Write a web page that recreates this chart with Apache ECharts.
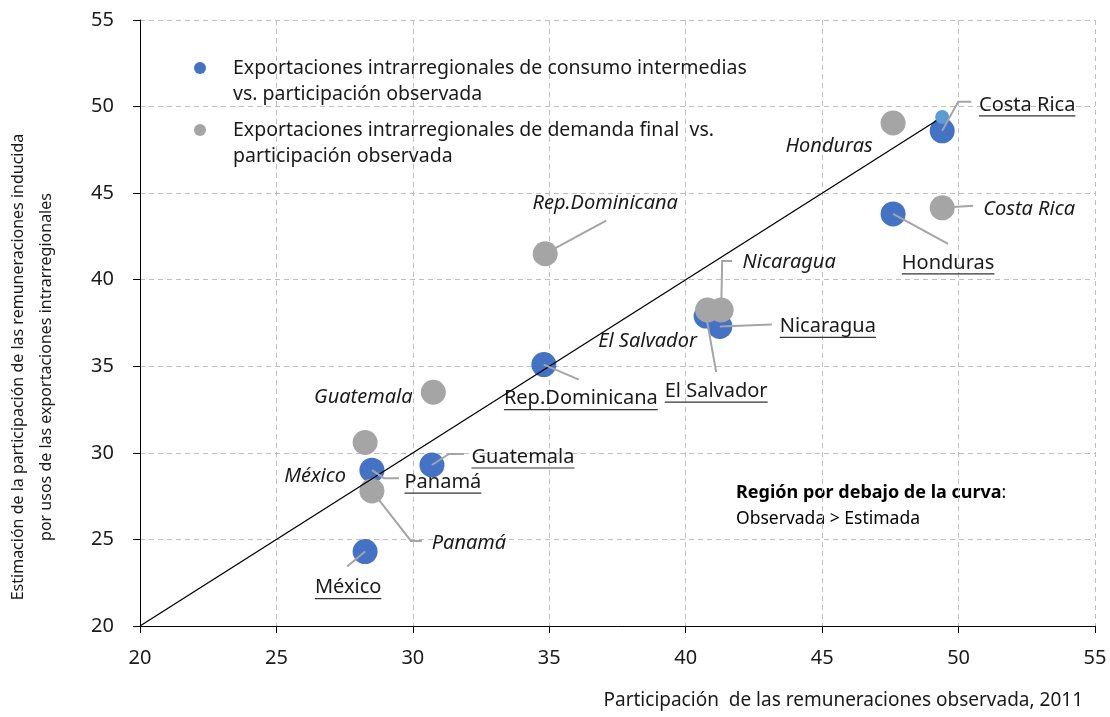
<!DOCTYPE html>
<html>
<head>
<meta charset="utf-8">
<script src="https://cdn.jsdelivr.net/npm/echarts@6/dist/echarts.min.js"></script>
<style>
  html, body { margin: 0; padding: 0; background: #fff; }
  #chart { width: 1110px; height: 717px; }
</style>
</head>
<body>
<div id="chart"></div>
<script>
// datos
const countries = ['Costa Rica', 'Honduras', 'Nicaragua', 'El Salvador', 'Rep.Dominicana', 'Guatemala', 'Panamá', 'México'];
const observedInter = [49.4, 47.6, 41.25, 40.75, 34.8, 30.7, 28.5, 28.25];
const estimatedInter = [48.6, 43.8, 37.3, 37.9, 35.1, 29.3, 29.0, 24.3];
const observedFinal = [49.4, 47.6, 41.3, 40.8, 34.85, 30.75, 28.5, 28.25];
const estimatedFinal = [44.15, 49.05, 38.25, 38.25, 41.5, 33.5, 27.8, 30.6];
const diagonal = [[20, 20], [49.4, 49.4]];
const axisMin = 20, axisMax = 55, axisStep = 5;

const nameInter = 'Exportaciones intrarregionales de consumo intermedias\nvs. participación observada';
const nameFinal = 'Exportaciones intrarregionales de demanda final  vs.\nparticipación observada';

// desplazamiento de las etiquetas (px) respecto al punto
const interOffsets = [[85, -25], [55, 50], [108, 1], [10, 76], [37, 35], [91, -7], [71, 13], [-17, 37]];
const finalOffsets = [[87, 1], [-64, 23], [68, -48], [-60, 31], [60, -50], [-70, 5], [97, 52], [-50, 34]];
// guías: vértices (px) relativos al centro del punto; null = sin guía
const interGuides = [
  [[16, -29], [29, -29]], [[55, 30]], [[52, -2]], [[10, 56]],
  [[35, 15]], [[17, -11], [32, -11]], [[12, 8], [27, 8]], [[-18, 15]]
];
const finalGuides = [
  [[31, -2]], null, [[1, -49], [11, -49]], null,
  [[61, -33]], null, [[39, 50], [50, 50]], null
];

const FONT = 'Noto Sans';
const BLUE = '#4472C4';
const GREY = '#A5A5A5';
const LABEL_SIZE = 20;

const ctx = document.createElement('canvas').getContext('2d');
function textWidth(str, size) {
  ctx.font = size + 'px "' + FONT + '"';
  return ctx.measureText(str).width;
}

const interData = countries.map((c, i) => ({
  name: c,
  value: [observedInter[i], estimatedInter[i]],
  label: {
    formatter: '{t|' + c + '}\n{u|}',
    rich: {
      t: { fontFamily: FONT, fontSize: LABEL_SIZE, lineHeight: 20, color: '#1a1a1a' },
      u: { width: textWidth(c, LABEL_SIZE), height: 1.2, lineHeight: 2, backgroundColor: '#333' }
    }
  }
}));

const finalData = countries.map((c, i) => ({
  name: c,
  value: [observedFinal[i], estimatedFinal[i]]
}));

const axisCommon = {
  type: 'value',
  min: axisMin,
  max: axisMax,
  interval: axisStep,
  axisLine: { show: true, lineStyle: { color: '#000', width: 1 } },
  axisTick: { show: true, length: 7, lineStyle: { color: '#000' } },
  axisLabel: { fontFamily: FONT, fontSize: 20, color: '#1a1a1a' },
  splitLine: { show: true, lineStyle: { color: '#BFBFBF', type: [5, 4], width: 1 } }
};

const regionBox = {
  id: 'region',
  type: 'group',
  left: 715,
  top: 463,
  children: [
    { type: 'rect', shape: { x: 0, y: 0, width: 376, height: 77 }, style: { fill: '#fff' } },
    {
      type: 'text', x: 21, y: 17,
      style: {
        text: '{b|Región por debajo de la curva}{n|:}\n{n|Observada > Estimada}',
        rich: {
          b: { fontFamily: FONT, fontSize: 18, fontWeight: 'bold', color: '#000', lineHeight: 26 },
          n: { fontFamily: FONT, fontSize: 17.5, color: '#1a1a1a', lineHeight: 26 }
        }
      }
    }
  ]
};

const chart = echarts.init(document.getElementById('chart'));
chart.setOption({
  animation: false,
  grid: { left: 140, right: 15, top: 20, bottom: 91, containLabel: false, outerBoundsMode: 'none' },
  legend: {
    data: [nameInter, nameFinal],
    orient: 'vertical',
    left: 194,
    top: 36,
    padding: 0,
    itemGap: -6,
    itemWidth: 12,
    itemHeight: 12,
    icon: 'circle',
    selectedMode: false,
    // línea vacía delante para que el icono quede a la altura de la primera línea
    formatter: name => '{s|}\n' + name.split('\n').map(l => '{a|' + l + '}').join('\n'),
    textStyle: {
      padding: [0, 0, 0, 22],
      rich: {
        s: { lineHeight: 26 },
        a: { fontFamily: FONT, fontSize: 19.5, color: '#1a1a1a', lineHeight: 26 }
      }
    }
  },
  xAxis: Object.assign({}, axisCommon, {
    axisLabel: Object.assign({}, axisCommon.axisLabel, { margin: 22 }),
    name: 'Participación  de las remuneraciones observada, 2011',
    nameLocation: 'end',
    nameGap: -12,
    nameTextStyle: { fontFamily: FONT, fontSize: 19, color: '#1a1a1a', align: 'right', verticalAlign: 'top', padding: [65, 0, 0, 0] }
  }),
  yAxis: Object.assign({}, axisCommon, {
    axisLabel: Object.assign({}, axisCommon.axisLabel, { margin: 26 }),
    name: 'Estimación de la participación de las remuneraciones inducida\npor usos de las exportaciones intrarregionales',
    nameLocation: 'middle',
    nameGap: 80,
    nameRotate: 90,
    nameTextStyle: { fontFamily: FONT, fontSize: 16, color: '#1a1a1a', lineHeight: 28, padding: [0, 88, 0, 0] }
  }),
  series: [
    {
      name: nameInter,
      type: 'scatter',
      symbolSize: 25,
      itemStyle: { color: BLUE, opacity: 1 },
      label: { show: true, position: 'inside', align: 'center', verticalAlign: 'middle' },
      labelLayout: p => ({ dx: interOffsets[p.dataIndex][0], dy: interOffsets[p.dataIndex][1] }),
      data: interData,
      z: 2
    },
    {
      name: nameFinal,
      type: 'scatter',
      symbolSize: 25,
      itemStyle: { color: GREY, opacity: 1 },
      label: {
        show: true, position: 'inside', align: 'center', verticalAlign: 'middle',
        formatter: '{b}', fontFamily: FONT, fontSize: LABEL_SIZE, fontStyle: 'italic', color: '#1a1a1a'
      },
      labelLayout: p => ({ dx: finalOffsets[p.dataIndex][0], dy: finalOffsets[p.dataIndex][1] }),
      data: finalData,
      z: 3
    },
    {
      type: 'line',
      data: diagonal,
      symbol: 'circle',
      symbolSize: (v, p) => (p.dataIndex === diagonal.length - 1 ? 14 : 0),
      itemStyle: { color: '#5B9BD5' },
      lineStyle: { color: '#000', width: 1.3 },
      silent: true,
      z: 4
    }
  ],
  graphic: [regionBox]
});

// líneas guía de las etiquetas, ancladas al píxel de cada punto
function guideLines(xs, ys, guides, prefix) {
  const out = [];
  guides.forEach((g, i) => {
    if (!g) return;
    const c = chart.convertToPixel({ gridIndex: 0 }, [xs[i], ys[i]]);
    out.push({
      id: prefix + i,
      type: 'polyline',
      silent: true,
      z: 10,
      shape: { points: [c].concat(g.map(o => [c[0] + o[0], c[1] + o[1]])) },
      style: { stroke: GREY, lineWidth: 2, fill: null }
    });
  });
  return out;
}

chart.setOption({
  graphic: [regionBox]
    .concat(guideLines(observedInter, estimatedInter, interGuides, 'gi'))
    .concat(guideLines(observedFinal, estimatedFinal, finalGuides, 'gf'))
});
</script>
</body>
</html>
